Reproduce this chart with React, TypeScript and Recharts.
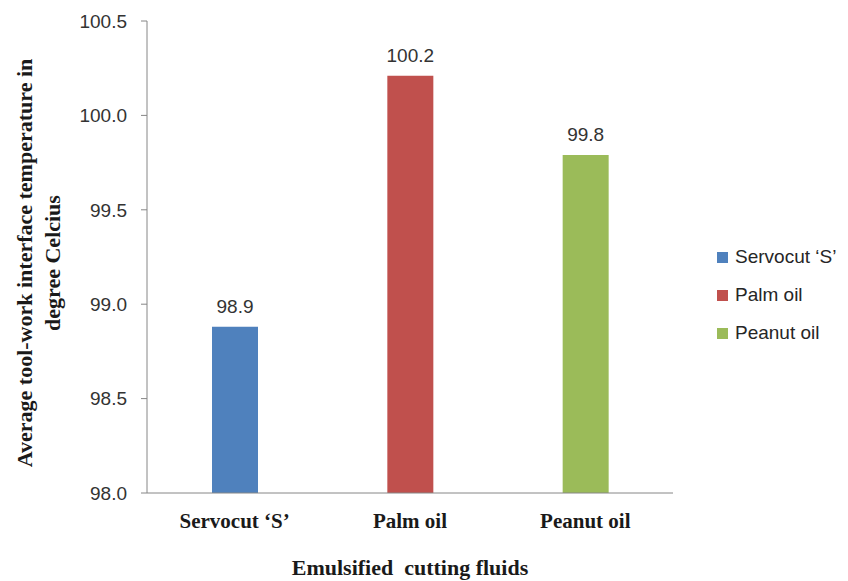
import { BarChart, Bar, XAxis, YAxis, Cell, LabelList, Legend } from 'recharts'

const fluids = ['Servocut \u2018S\u2019', 'Palm oil', 'Peanut oil']
const temperatures = [98.88, 100.21, 99.79]
const valueLabels = ['98.9', '100.2', '99.8']
const barColors = ['#4F81BD', '#C0504D', '#9BBB59']
const yTicks = [98.0, 98.5, 99.0, 99.5, 100.0, 100.5]

const data = fluids.map((name, i) => ({
    name,
    temp: temperatures[i],
    label: valueLabels[i],
}))

// only the bold serif renders here, regular text falls back to a sans
const BOLD = '"Liberation Serif", "Times New Roman", serif'
const REG = '"Liberation Sans", Arial, sans-serif'

const YLabel = (props: any) => {
    const vb = props.viewBox || {}
    const cy = vb.y + vb.height / 2 + 6
    return (
        <g fontFamily={BOLD} fontWeight="bold" fontSize={22} fill="#1a1a1a">
            <text
                x={24}
                y={cy}
                transform={`rotate(-90, 24, ${cy})`}
                textAnchor="middle"
                dominantBaseline="central"
            >
                Average tool-work interface temperature in
            </text>
            <text
                x={52}
                y={cy}
                transform={`rotate(-90, 52, ${cy})`}
                textAnchor="middle"
                dominantBaseline="central"
            >
                degree Celcius
            </text>
        </g>
    )
}

const renderLegend = () => (
    <div style={{ fontFamily: REG, fontSize: 19, color: '#262626' }}>
        {fluids.map((f, i) => (
            <div
                key={f}
                style={{ display: 'flex', alignItems: 'center', height: 38, whiteSpace: 'nowrap' }}
            >
                <span
                    style={{
                        display: 'inline-block',
                        width: 11,
                        height: 11,
                        background: barColors[i],
                        marginRight: 7,
                    }}
                />
                {f}
            </div>
        ))}
    </div>
)

export default function App() {
    return (
        <div style={{ position: 'absolute', left: 0, top: 0, background: '#fff' }}>
            <BarChart
                width={848}
                height={581}
                data={data}
                margin={{ top: 21, right: 35, left: 47, bottom: 8 }}
            >
                <XAxis
                    dataKey="name"
                    height={80}
                    stroke="#868686"
                    tickLine={false}
                    tick={{ fontFamily: BOLD, fontSize: 21, fontWeight: 'bold', fill: '#1a1a1a' }}
                    tickMargin={14}
                    label={{
                        value: 'Emulsified\u00a0\u00a0cutting fluids',
                        position: 'insideBottom',
                        offset: -2,
                        style: {
                            fontFamily: BOLD,
                            fontSize: 22,
                            fontWeight: 'bold',
                            fill: '#1a1a1a',
                        },
                    }}
                />
                <YAxis
                    domain={[98, 100.5]}
                    ticks={yTicks}
                    width={100}
                    stroke="#868686"
                    tickSize={6}
                    tickMargin={14}
                    tickFormatter={(v: number) => v.toFixed(1)}
                    tick={{ fontFamily: REG, fontSize: 19, fill: '#333' }}
                    allowDataOverflow
                    label={<YLabel />}
                />
                <Legend
                    layout="vertical"
                    align="right"
                    verticalAlign="middle"
                    width={130}
                    content={renderLegend}
                    wrapperStyle={{ left: 717, top: 238, width: 140 }}
                />
                <Bar dataKey="temp" barSize={46} isAnimationActive={false}>
                    {data.map((d, i) => (
                        <Cell key={d.name} fill={barColors[i]} />
                    ))}
                    <LabelList
                        dataKey="label"
                        position="top"
                        offset={14}
                        fontFamily={REG}
                        fontSize={19}
                        fill="#333"
                    />
                </Bar>
            </BarChart>
        </div>
    )
}
